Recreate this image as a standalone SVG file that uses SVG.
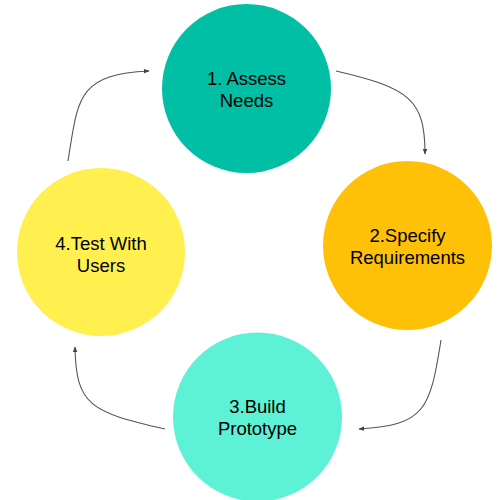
<svg xmlns="http://www.w3.org/2000/svg" width="500" height="500" viewBox="0 0 500 500">
<defs>
<style>
.lbl{font-family:"Liberation Sans",Arial,sans-serif;font-size:18.5px;fill:#000;text-anchor:middle}
.edge{fill:none;stroke:#555;stroke-width:1.1}
</style>
<marker id="ah" viewBox="0 0 10 10" refX="9" refY="5" markerWidth="6" markerHeight="6" orient="auto" markerUnits="userSpaceOnUse">
<path d="M0,1 L10,5 L0,9 Z" fill="#444"/>
</marker>
</defs>
<rect width="500" height="500" fill="#fff"/>
<g id="edges">
<path class="edge" d="M68,161 C78,100 76,74 149,71" marker-end="url(#ah)"/>
<path class="edge" d="M336,71 C410,88 425,100 425,154" marker-end="url(#ah)"/>
<path class="edge" d="M441,340 C430,410 425,425 359,429" marker-end="url(#ah)"/>
<path class="edge" d="M165,429 C90,412 76,405 75,347" marker-end="url(#ah)"/>
</g>
<g id="n1">
<circle cx="246.5" cy="88.5" r="84.5" fill="#00BFA5"/>
<text class="lbl" x="246.5" y="84.5">1. Assess</text>
<text class="lbl" x="246.5" y="106.5">Needs</text>
</g>
<g id="n2">
<circle cx="407.5" cy="245.5" r="84.5" fill="#FFC107"/>
<text class="lbl" x="407.5" y="242">2.Specify</text>
<text class="lbl" x="407.5" y="263.5">Requirements</text>
</g>
<g id="n3">
<circle cx="257.5" cy="417" r="84.5" fill="#5DF2D6"/>
<text class="lbl" x="257.5" y="413">3.Build</text>
<text class="lbl" x="257.5" y="434.5">Prototype</text>
</g>
<g id="n4">
<circle cx="101" cy="252" r="84" fill="#FFF050"/>
<text class="lbl" x="101" y="250">4.Test With</text>
<text class="lbl" x="101" y="271.5">Users</text>
</g>
</svg>
